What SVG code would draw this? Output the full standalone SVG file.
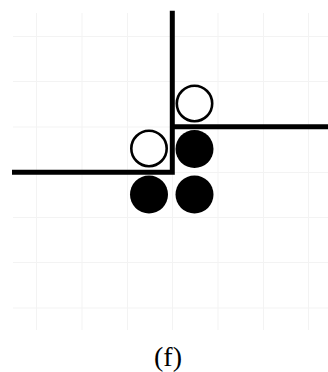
<svg xmlns="http://www.w3.org/2000/svg" width="328" height="372" viewBox="0 0 328 372">
<style>
.grid{stroke:#f3f3f3;stroke-width:1;fill:none}
.wall{stroke:#000;stroke-width:5;fill:none;stroke-linecap:butt;stroke-linejoin:miter}
.open{fill:#fff;stroke:#000;stroke-width:2.6}
.filled{fill:#000}
.lbl{font-family:"Liberation Serif","Times New Roman",serif;font-size:28px;fill:#000}
</style>
<rect width="328" height="372" fill="#fff"/>
<g id="grid" class="grid">
<path d="M36.5 13V330M82 13V330M127.5 13V330M172.5 13V330M218 13V330M263.5 13V330M308.5 13V330"/>
<path d="M13 36.5H328M13 81.5H328M13 127H328M13 172.5H328M13 217.5H328M13 262.5H328M13 308H328"/>
</g>
<g id="connectors">
<path class="wall" d="M12 172.3H172.3V10.7"/>
<path class="wall" d="M172.3 126.7H328"/>
</g>
<g id="n1"><circle class="open" cx="194.5" cy="103.5" r="17.7"/></g>
<g id="n2"><circle class="open" cx="149" cy="148.5" r="17.7"/></g>
<g id="n3"><circle class="filled" cx="194.5" cy="149" r="19"/></g>
<g id="n4"><circle class="filled" cx="149" cy="194.5" r="19"/></g>
<g id="n5"><circle class="filled" cx="194.5" cy="194.5" r="19"/></g>
<text class="lbl" x="168" y="366" text-anchor="middle">(f)</text>
</svg>
